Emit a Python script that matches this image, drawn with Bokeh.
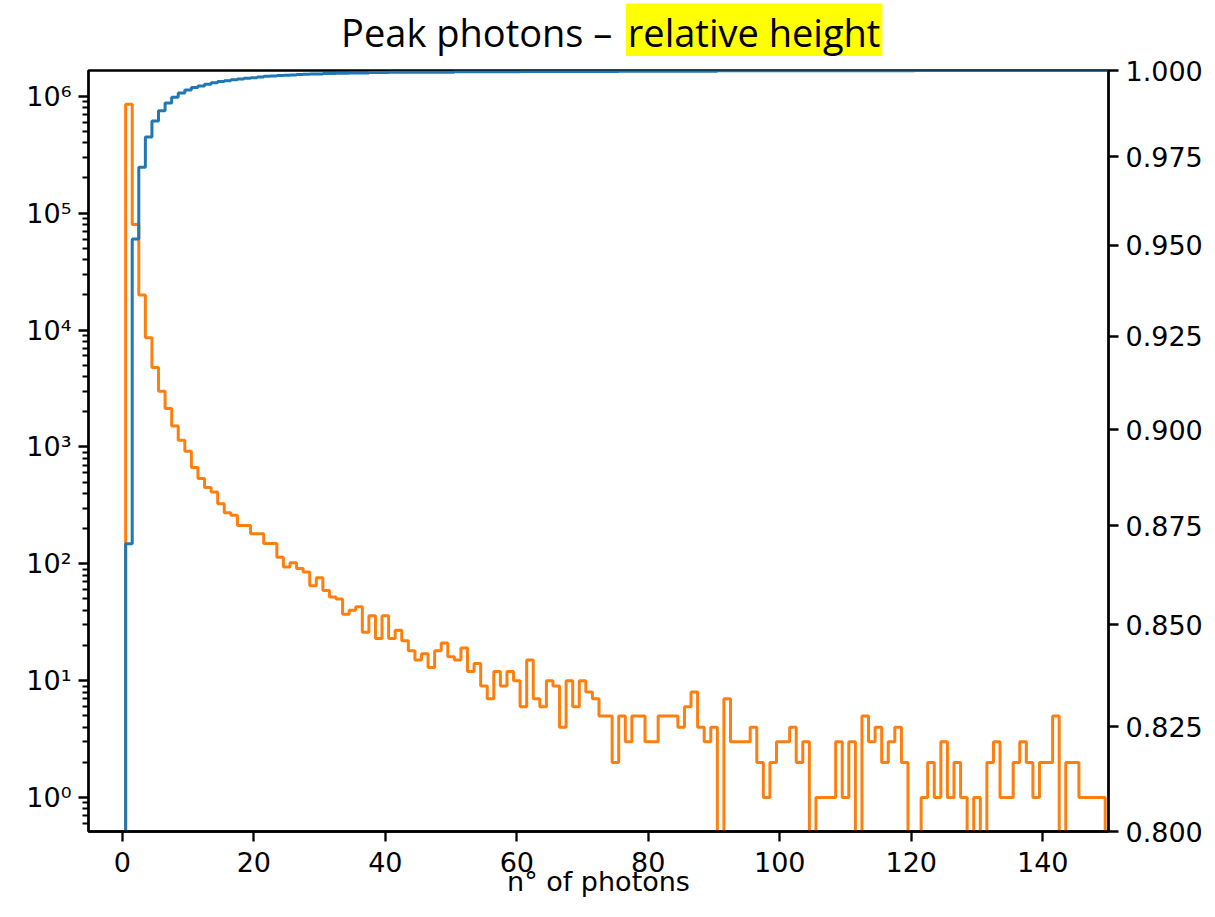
from bokeh.plotting import figure
from bokeh.layouts import column
from bokeh.models import Range1d, LinearAxis, FixedTicker, Label, PrintfTickFormatter
from bokeh.embed import file_html
from bokeh.resources import INLINE

# ---------------- data ----------------
bin_centers = list(range(1, 151))

counts = [
    853000, 80000, 19900, 8570, 4780, 2990, 2130, 1510, 1140, 917,
    665, 536, 449, 412, 327, 274, 260, 213, 213, 181,
    181, 149, 149, 114, 94, 102, 91, 85, 65, 76,
    59, 52, 50, 37, 40, 43, 26, 36, 23, 36,
    23, 27, 22, 18, 15, 17, 13, 18, 21, 16,
    15, 19, 12, 14, 9, 7, 12, 9, 12, 10,
    6, 15, 7, 6, 10, 9, 4, 10, 6, 10,
    8, 7, 5, 5, 2, 5, 3, 5, 5, 3,
    3, 5, 5, 5, 4, 6, 8, 4, 3, 4,
    0, 7, 3, 3, 3, 4, 2, 1, 2, 3,
    3, 4, 2, 3, 0, 1, 1, 1, 3, 1,
    3, 0, 5, 3, 4, 2, 3, 4, 2, 0,
    0, 1, 2, 1, 3, 1, 2, 1, 0, 1,
    0, 2, 3, 1, 1, 2, 3, 2, 1, 2,
    2, 5, 0, 2, 2, 1, 1, 1, 1, 0,
]

cum_frac = [
    0.8704, 0.9518, 0.9720, 0.9807, 0.9853, 0.9883, 0.9905, 0.9922, 0.9934, 0.9943,
    0.9950, 0.9955, 0.9960, 0.9964, 0.9968, 0.9970, 0.9973, 0.9975, 0.9977, 0.9979,
    0.9981, 0.9983, 0.9984, 0.9985, 0.9986, 0.9987, 0.9988, 0.9989, 0.9990, 0.9990,
    0.9991, 0.9991, 0.9992, 0.9992, 0.9993, 0.9993, 0.9993, 0.9994, 0.9994, 0.9994,
    0.9995, 0.9995, 0.9995, 0.9995, 0.9995, 0.9995, 0.9995, 0.9995, 0.9995, 0.9995,
    0.9996, 0.9996, 0.9996, 0.9996, 0.9996, 0.9996, 0.9996, 0.9996, 0.9996, 0.9996,
    0.9997, 0.9997, 0.9997, 0.9997, 0.9997, 0.9997, 0.9997, 0.9997, 0.9997, 0.9997,
    0.9997, 0.9997, 0.9997, 0.9997, 0.9997, 0.9998, 0.9998, 0.9998, 0.9998, 0.9998,
    0.9998, 0.9998, 0.9998, 0.9998, 0.9998, 0.9998, 0.9998, 0.9998, 0.9998, 0.9998,
    0.9999, 0.9999, 0.9999, 0.9999, 0.9999, 0.9999, 0.9999, 0.9999, 0.9999, 0.9999,
    0.9999, 0.9999, 0.9999, 0.9999, 0.9999, 0.9999, 0.9999, 0.9999, 0.9999, 0.9999,
    0.9999, 0.9999, 0.9999, 0.9999, 0.9999, 0.9999, 0.9999, 0.9999, 0.9999, 0.9999,
    1.0, 1.0, 1.0, 1.0, 1.0, 1.0, 1.0, 1.0, 1.0, 1.0,
    1.0, 1.0, 1.0, 1.0, 1.0, 1.0, 1.0, 1.0, 1.0, 1.0,
    1.0, 1.0, 1.0, 1.0, 1.0, 1.0, 1.0, 1.0, 1.0, 1.0,
]

x_ticks = [0, 20, 40, 60, 80, 100, 120, 140]
left_ticks = [1, 10, 100, 1000, 10000, 100000, 1000000]
left_tick_labels = ["10⁰", "10¹", "10²", "10³", "10⁴", "10⁵", "10⁶"]
right_ticks = [0.800, 0.825, 0.850, 0.875, 0.900, 0.925, 0.950, 0.975, 1.000]

title_main = "Peak photons –"
title_highlight = "relative height"
x_label = "n° of photons"

# ---------------- styling ----------------
ORANGE = "#ff7f0e"
BLUE = "#1f77b4"
TICK_FONT = "DejaVu Sans"
TICK_SIZE = "27px"
TITLE_H = 56

# ---- title strip (its own small figure, frame = whole canvas) ----
tp = figure(
    width=1215, height=TITLE_H,
    x_range=Range1d(0, 1215), y_range=Range1d(TITLE_H, 0),
    x_axis_location=None, y_axis_location=None,
    min_border=0, output_backend="svg", toolbar_location=None,
    background_fill_color="white", border_fill_color="white",
)
tp.outline_line_color = None
tp.xgrid.visible = False
tp.ygrid.visible = False
tp.add_layout(Label(x=624, y=31, text=title_main,
                    text_align="right", text_baseline="middle",
                    text_font="Open Sans", text_font_size="38px", text_color="black"))
tp.add_layout(Label(x=640, y=31, text=title_highlight,
                    text_align="left", text_baseline="middle",
                    text_font="Open Sans", text_font_size="38px", text_color="black",
                    background_fill_color="#ffff00", padding=2))

# ---- main chart ----
p = figure(
    frame_width=1020, frame_height=761,
    min_border_left=88, min_border_right=107, min_border_top=70 - TITLE_H,
    min_border_bottom=86,
    y_axis_type="log",
    x_range=Range1d(-5.15, 150),
    y_range=Range1d(10 ** -0.29, 10 ** 6.22),
    output_backend="svg", toolbar_location=None,
    background_fill_color="white", border_fill_color="white",
)
p.extra_y_ranges = {"cum": Range1d(0.8, 1.0)}
p.xgrid.visible = False
p.ygrid.visible = False
p.outline_line_color = "black"
p.outline_line_width = 2.3
p.outline_line_alpha = 1.0

# orange step histogram (log, left axis)
floor = 1e-2
ox, oy = [bin_centers[0] - 0.5], [floor]
for c, v in zip(bin_centers, counts):
    h = v if v > 0 else floor
    ox += [c - 0.5, c + 0.5]
    oy += [h, h]
ox.append(bin_centers[-1] + 0.5)
oy.append(floor)
p.line(ox, oy, line_color=ORANGE, line_width=3)

# blue cumulative step (right axis)
bx, by = [bin_centers[0] - 0.5], [0.7]
for c, v in zip(bin_centers, cum_frac):
    bx += [c - 0.5, c + 0.5]
    by += [v, v]
bx.append(bin_centers[-1] + 2)
by.append(cum_frac[-1])
p.line(bx, by, line_color=BLUE, line_width=3, y_range_name="cum")

# axes
def style_axis(ax):
    ax.axis_line_color = "black"
    ax.axis_line_width = 2.3
    ax.major_tick_line_width = 2.3
    ax.minor_tick_line_width = 1.8
    ax.major_tick_out = 10
    ax.major_tick_in = 0
    ax.minor_tick_out = 6
    ax.minor_tick_in = 0
    ax.major_label_text_font = TICK_FONT
    ax.major_label_text_font_size = TICK_SIZE
    ax.major_label_text_color = "black"
    ax.major_label_standoff = 7

xa = p.xaxis[0]
style_axis(xa)
xa.major_label_standoff = 10
xa.ticker = FixedTicker(ticks=x_ticks, minor_ticks=[])
xa.axis_label = x_label
xa.axis_label_text_font = TICK_FONT
xa.axis_label_text_font_size = TICK_SIZE
xa.axis_label_text_font_style = "normal"
xa.axis_label_text_color = "black"
xa.axis_label_standoff = -9

minor = [m * 10 ** e for e in range(-1, 7) for m in range(2, 10)
         if 10 ** -0.29 < m * 10 ** e < 10 ** 6.22]
ya = p.yaxis[0]
style_axis(ya)
ya.ticker = FixedTicker(ticks=left_ticks, minor_ticks=minor)
ya.major_label_overrides = {t: s for t, s in zip(left_ticks, left_tick_labels)}

ra = LinearAxis(y_range_name="cum", ticker=FixedTicker(ticks=right_ticks, minor_ticks=[]),
                formatter=PrintfTickFormatter(format="%.3f"))
style_axis(ra)
p.add_layout(ra, "right")

layout = column(tp, p, spacing=0)
open("out.html", "w").write(file_html(layout, INLINE))
